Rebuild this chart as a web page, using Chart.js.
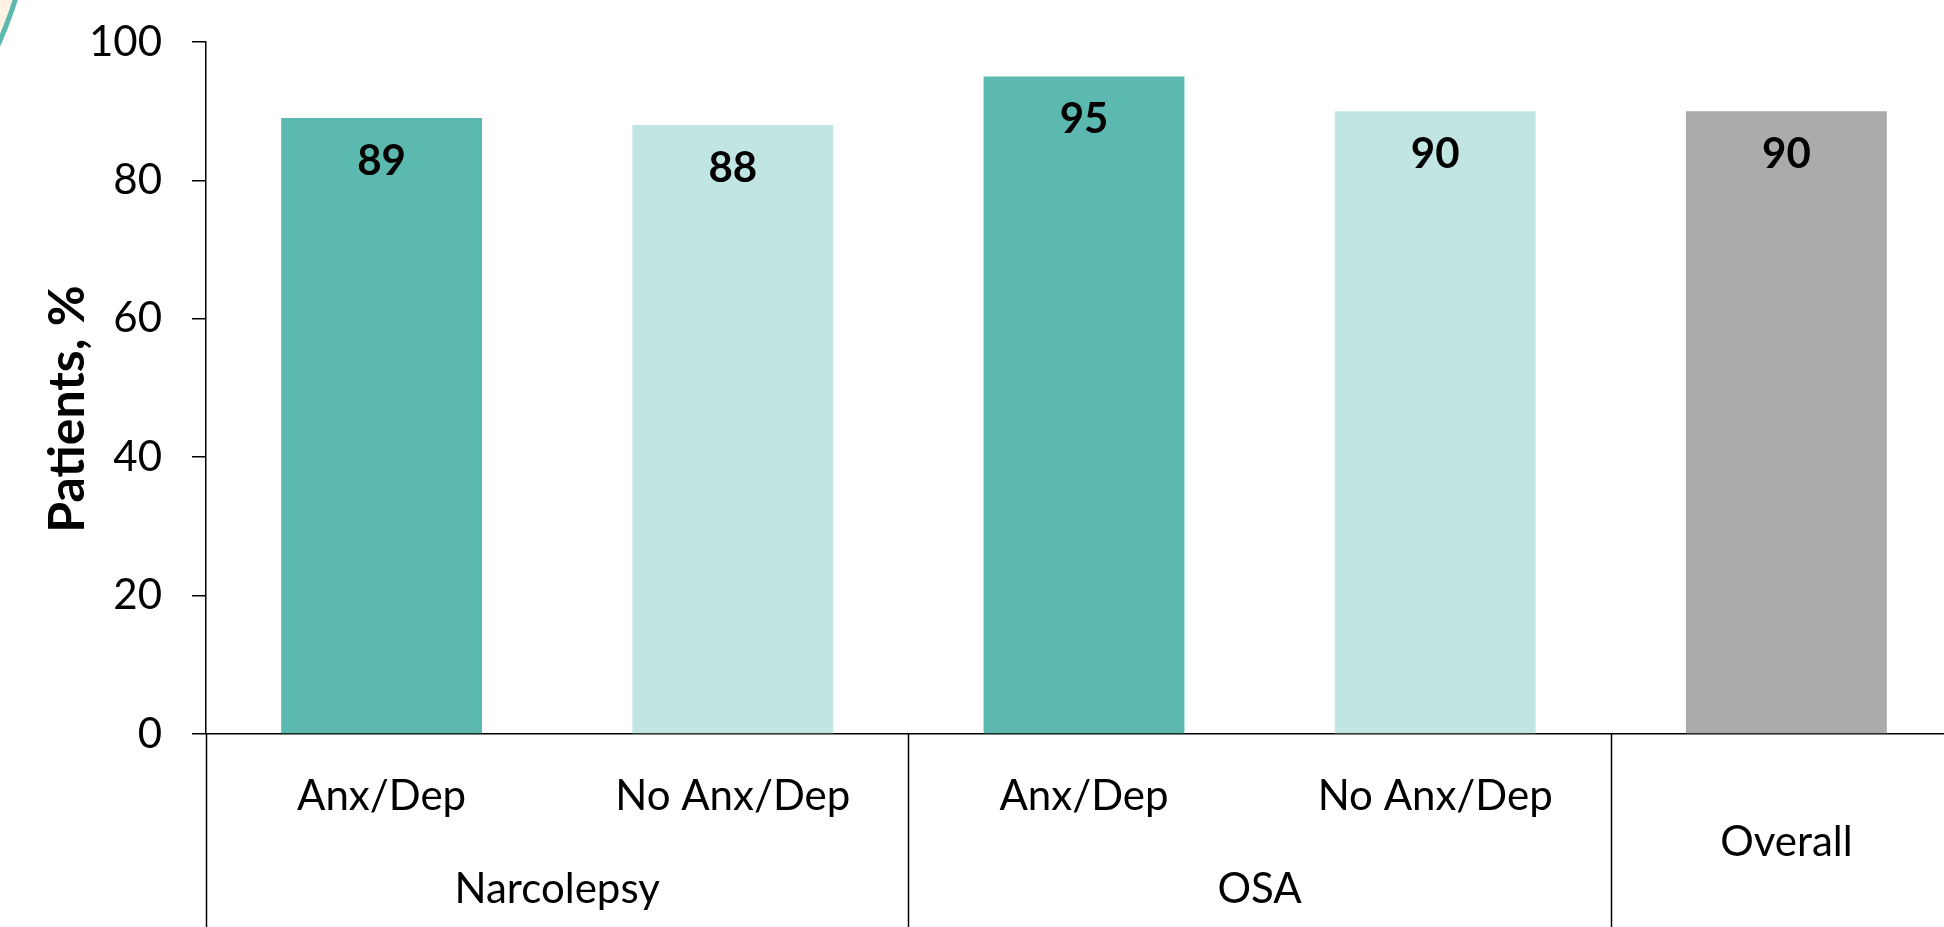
<!DOCTYPE html>
<html>
<head>
<meta charset="utf-8">
<script src="https://cdn.jsdelivr.net/npm/chart.js@4.4.1/dist/chart.umd.min.js"></script>
<style>
html,body{margin:0;padding:0;background:#fff;overflow:hidden;width:1944px;height:927px;}
canvas{position:absolute;left:0;top:0;}
</style>
</head>
<body>
<canvas id="c" width="1980" height="927"></canvas>
<script>
const subLabels = ["Anx/Dep", "No Anx/Dep", "Anx/Dep", "No Anx/Dep", "Overall"];
const groupLabels = ["Narcolepsy", "OSA"];
const groupSpans = [[0, 1], [2, 3]];
const values = [89, 88, 95, 90, 90];
const barColors = ["#5BB9B0", "#C1E6E2", "#5BB9B0", "#C1E6E2", "#ABABAB"];
const yTicks = [0, 20, 40, 60, 80, 100];
const yTitle = "Patients, %";

const FONT = "Lato, 'DejaVu Sans', sans-serif";
const LINE = "#000000";

const decor = {
  id: 'decor',
  beforeDraw(chart) {
    const ctx = chart.ctx;
    ctx.save();
    ctx.beginPath();
    ctx.arc(-400, -133, 436, 0, Math.PI * 2);
    ctx.fillStyle = "#FDF2E4";
    ctx.fill();
    ctx.lineWidth = 5;
    ctx.strokeStyle = "#5BB9B0";
    ctx.stroke();
    ctx.restore();
  },
  afterDraw(chart) {
    const ctx = chart.ctx;
    const x = chart.scales.x;
    const area = chart.chartArea;
    const bottom = chart.height;
    ctx.save();
    ctx.strokeStyle = LINE;
    ctx.lineWidth = 1.5;
    const half = (x.getPixelForValue(1) - x.getPixelForValue(0)) / 2;
    [0, 2, 4, 5].forEach(i => {
      const px = Math.round(x.getPixelForValue(i) - half) + 0.5;
      ctx.beginPath();
      ctx.moveTo(px, area.bottom);
      ctx.lineTo(px, bottom);
      ctx.stroke();
    });
    ctx.fillStyle = "#000";
    ctx.font = "42px " + FONT;
    ctx.textAlign = "center";
    ctx.textBaseline = "middle";
    subLabels.forEach((l, i) => {
      const cy = (i === 4) ? 842 : 796;
      ctx.fillText(l, x.getPixelForValue(i), cy);
    });
    groupLabels.forEach((g, k) => {
      const [a, b] = groupSpans[k];
      const cx = (x.getPixelForValue(a) + x.getPixelForValue(b)) / 2;
      ctx.fillText(g, cx, 889);
    });
    ctx.font = "bold 42px " + FONT;
    const meta = chart.getDatasetMeta(0);
    meta.data.forEach((bar, i) => {
      ctx.fillText(String(values[i]), bar.x, bar.y + 43);
    });
    ctx.font = "bold 50px " + FONT;
    ctx.translate(68, 409);
    ctx.rotate(-Math.PI / 2);
    ctx.fillText(yTitle, 0, 0);
    ctx.restore();
  }
};

new Chart(document.getElementById('c'), {
  type: 'bar',
  data: {
    labels: subLabels,
    datasets: [{
      data: values,
      backgroundColor: barColors,
      borderWidth: 0,
      barPercentage: 0.572,
      categoryPercentage: 1.0
    }]
  },
  options: {
    responsive: false,
    devicePixelRatio: 1,
    animation: false,
    events: [],
    layout: { padding: { top: 42, left: 0, right: 18, bottom: 0 } },
    plugins: { legend: { display: false }, tooltip: { enabled: false }, title: { display: false } },
    scales: {
      x: {
        grid: { display: false, drawTicks: false },
        border: { display: true, color: LINE, width: 1.5 },
        ticks: { display: false },
        afterFit(s) { s.height = 193; s.paddingLeft = 0; s.paddingRight = 0; }
      },
      y: {
        min: 0, max: 100,
        afterBuildTicks(s) { s.ticks = yTicks.map(v => ({ value: v })); },
        grid: { display: true, drawOnChartArea: false, drawTicks: true, tickLength: 14, color: LINE, lineWidth: 1.5 },
        border: { display: true, color: LINE, width: 1.5 },
        ticks: { color: "#000", font: { family: FONT, size: 42 }, padding: 30 },
        afterFit(s) { s.width = 206; s.paddingTop = 0; s.paddingBottom = 0; }
      }
    }
  },
  plugins: [decor]
});
</script>
</body>
</html>
